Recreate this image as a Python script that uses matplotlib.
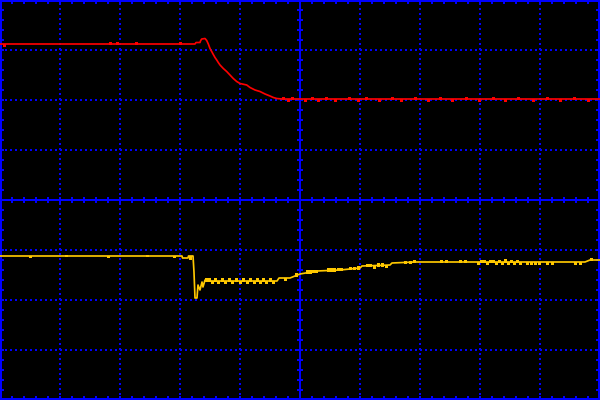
import numpy as np
import matplotlib
matplotlib.use("Agg")
import matplotlib.pyplot as plt

# Oscilloscope screen: 10 x 8 divisions, values in divisions
# CH1 (red) main trace
ch1_t = [0.0, 3.25, 3.267, 3.333, 3.345, 3.362, 3.417, 3.445, 3.472, 3.5, 3.528, 3.555,
         3.583, 3.612, 3.638, 3.667, 3.722, 3.778, 3.833, 3.888, 3.945, 4.0, 4.112,
         4.167, 4.25, 4.333, 4.417, 4.5, 4.555, 4.612, 4.7, 10.0]
ch1_v = [3.12, 3.12, 3.15, 3.15, 3.19, 3.22, 3.23, 3.19, 3.12, 3.03, 2.97, 2.91,
         2.85, 2.80, 2.75, 2.70, 2.63, 2.57, 2.50, 2.43, 2.37, 2.33, 2.30,
         2.25, 2.20, 2.17, 2.12, 2.08, 2.05, 2.03, 2.02, 2.02]
# CH1 short glitches: time, low, high
ch1_gt = [0.067, 1.833, 1.95, 2.267, 3.0, 4.717, 4.8, 4.867, 5.083, 5.2, 5.3, 5.433,
          5.583, 5.817, 5.967, 6.1, 6.317, 6.533, 6.683, 6.917, 7.133, 7.333, 7.533,
          7.767, 7.983, 8.217, 8.417, 8.633, 8.883, 9.117, 9.333, 9.567, 9.8]
ch1_glo = [3.08, 3.12, 3.12, 3.12, 3.12, 2.02, 1.98, 2.02, 1.98, 2.02, 1.98, 2.02,
           1.98, 2.02, 1.98, 2.02, 1.98, 2.02, 1.98, 2.02, 1.98, 2.02, 1.98,
           2.02, 1.98, 2.02, 1.98, 2.02, 1.98, 2.02, 1.98, 2.02, 1.98]
ch1_ghi = [3.12, 3.16, 3.16, 3.16, 3.16, 2.06, 2.02, 2.06, 2.02, 2.06, 2.02, 2.06,
           2.02, 2.06, 2.02, 2.06, 2.02, 2.06, 2.02, 2.06, 2.02, 2.06, 2.02,
           2.06, 2.02, 2.06, 2.02, 2.06, 2.02, 2.06, 2.02, 2.06, 2.02]

# CH2 (yellow) main trace
ch2_t = [0.0, 3.033, 3.042, 3.133, 3.142, 3.217, 3.233, 3.25, 3.283, 3.3, 3.333, 3.367,
         3.383, 3.417, 3.45, 4.617, 4.65, 4.833, 5.0, 5.283, 5.667, 6.0, 6.033, 6.5,
         6.533, 6.917, 9.75, 9.833, 10.0]
ch2_v = [-1.12, -1.12, -1.16, -1.16, -1.12, -1.12, -1.44, -1.96, -1.96, -1.70, -1.80,
         -1.64, -1.74, -1.60, -1.62, -1.62, -1.56, -1.56, -1.48, -1.42, -1.40, -1.36,
         -1.32, -1.30, -1.26, -1.24, -1.24, -1.20, -1.20]
# CH2 short glitches: time, low, high
ch2_gt = [0.5, 1.1, 1.8, 2.45, 2.9, 3.167,
          3.433, 3.483, 3.583, 3.7, 3.817, 3.933, 4.05, 4.167, 4.283, 4.383, 4.5,
          3.533, 3.633, 3.75, 3.867, 4.0, 4.117, 4.233, 4.333, 4.433, 4.55,
          4.75, 4.933, 5.117, 5.167, 5.217, 5.267, 5.467, 5.517, 5.567, 5.633, 5.683,
          5.833, 5.9, 5.967, 6.117, 6.167, 6.233, 6.3, 6.367, 6.433, 6.75, 6.833, 6.9,
          7.35, 7.433, 7.667, 7.75, 7.967, 8.017, 8.067, 8.117, 8.167, 8.217, 8.267,
          8.317, 8.367, 8.417, 8.467, 8.517, 8.567, 8.617, 8.667, 8.783, 8.85, 8.917,
          8.983, 9.117, 9.2, 9.583, 9.667, 9.85]
ch2_glo = [-1.14, -1.12, -1.14, -1.12, -1.14, -1.18,
           -1.62, -1.62, -1.62, -1.62, -1.62, -1.62, -1.62, -1.62, -1.62, -1.62, -1.62,
           -1.66, -1.66, -1.66, -1.66, -1.66, -1.66, -1.66, -1.66, -1.66, -1.66,
           -1.60, -1.52, -1.46, -1.45, -1.44, -1.43, -1.41, -1.41, -1.41, -1.40, -1.40,
           -1.38, -1.38, -1.37, -1.32, -1.32, -1.36, -1.31, -1.31, -1.34, -1.25, -1.25, -1.24,
           -1.24, -1.24, -1.24, -1.24, -1.28, -1.24, -1.24, -1.28, -1.24, -1.24, -1.28,
           -1.24, -1.28, -1.24, -1.28, -1.24, -1.28, -1.24, -1.28, -1.28, -1.28, -1.28,
           -1.28, -1.28, -1.28, -1.28, -1.28, -1.20]
ch2_ghi = [-1.12, -1.09, -1.12, -1.09, -1.12, -1.12,
           -1.55, -1.55, -1.55, -1.55, -1.55, -1.55, -1.55, -1.55, -1.55, -1.55, -1.55,
           -1.62, -1.62, -1.62, -1.62, -1.62, -1.62, -1.62, -1.62, -1.62, -1.62,
           -1.56, -1.46, -1.40, -1.40, -1.40, -1.39, -1.36, -1.36, -1.36, -1.35, -1.35,
           -1.33, -1.33, -1.32, -1.28, -1.27, -1.31, -1.26, -1.26, -1.30, -1.21, -1.21, -1.20,
           -1.20, -1.20, -1.20, -1.20, -1.24, -1.20, -1.20, -1.24, -1.20, -1.20, -1.24,
           -1.20, -1.24, -1.18, -1.24, -1.20, -1.24, -1.20, -1.24, -1.24, -1.24, -1.24,
           -1.24, -1.24, -1.24, -1.24, -1.24, -1.16]

fig = plt.figure(figsize=(6, 4), dpi=100, facecolor="black")
ax = fig.add_axes([0, 0, 1, 1])
ax.set_facecolor("black")
ax.set_xlim(0, 10)
ax.set_ylim(-4, 4)
ax.axis("off")

blue = "#0000FF"
px = 0.72  # one pixel in points

# dotted grid: small crisp dots every 5 px
for gx in range(1, 10):
    if gx != 5:
        ax.axvline(gx, color=blue, lw=1.6 * px, dashes=(1.0, 2.125),
                   antialiased=False)
for gy in range(-3, 4):
    if gy != 0:
        ax.axhline(gy, color=blue, lw=1.6 * px, dashes=(1.0, 2.125),
                   antialiased=False)

# centre axes
ax.axvline(5, color=blue, lw=2 * px)
ax.axhline(0, color=blue, lw=2 * px)

# border
for e in (0, 10):
    ax.axvline(e, color=blue, lw=4 * px, clip_on=False)
for e in (-4, 4):
    ax.axhline(e, color=blue, lw=4 * px, clip_on=False)

# minor ticks
xt = np.arange(0, 10.001, 0.2)
yt = np.arange(-4, 4.001, 0.2)
ax.vlines(xt, -0.06, 0.06, color=blue, lw=2 * px)
ax.hlines(yt, 5 - 0.05, 5 + 0.05, color=blue, lw=2 * px)
ax.vlines(xt, 4 - 0.08, 4, color=blue, lw=2 * px)
ax.vlines(xt, -4, -4 + 0.08, color=blue, lw=2 * px)
ax.hlines(yt, 0, 0.07, color=blue, lw=2 * px)
ax.hlines(yt, 10 - 0.07, 10, color=blue, lw=2 * px)

red = "#FF0000"
yellow = "#FFC800"
ax.plot(ch1_t, ch1_v, color=red, lw=1.7 * px)
ax.vlines(ch1_gt, ch1_glo, ch1_ghi, color=red, lw=1.2 * px, antialiased=False)
ax.plot(ch2_t, ch2_v, color=yellow, lw=1.7 * px)
ax.vlines(ch2_gt, ch2_glo, ch2_ghi, color=yellow, lw=1.2 * px, antialiased=False)

fig.savefig("out.png", dpi=100, facecolor="black")
